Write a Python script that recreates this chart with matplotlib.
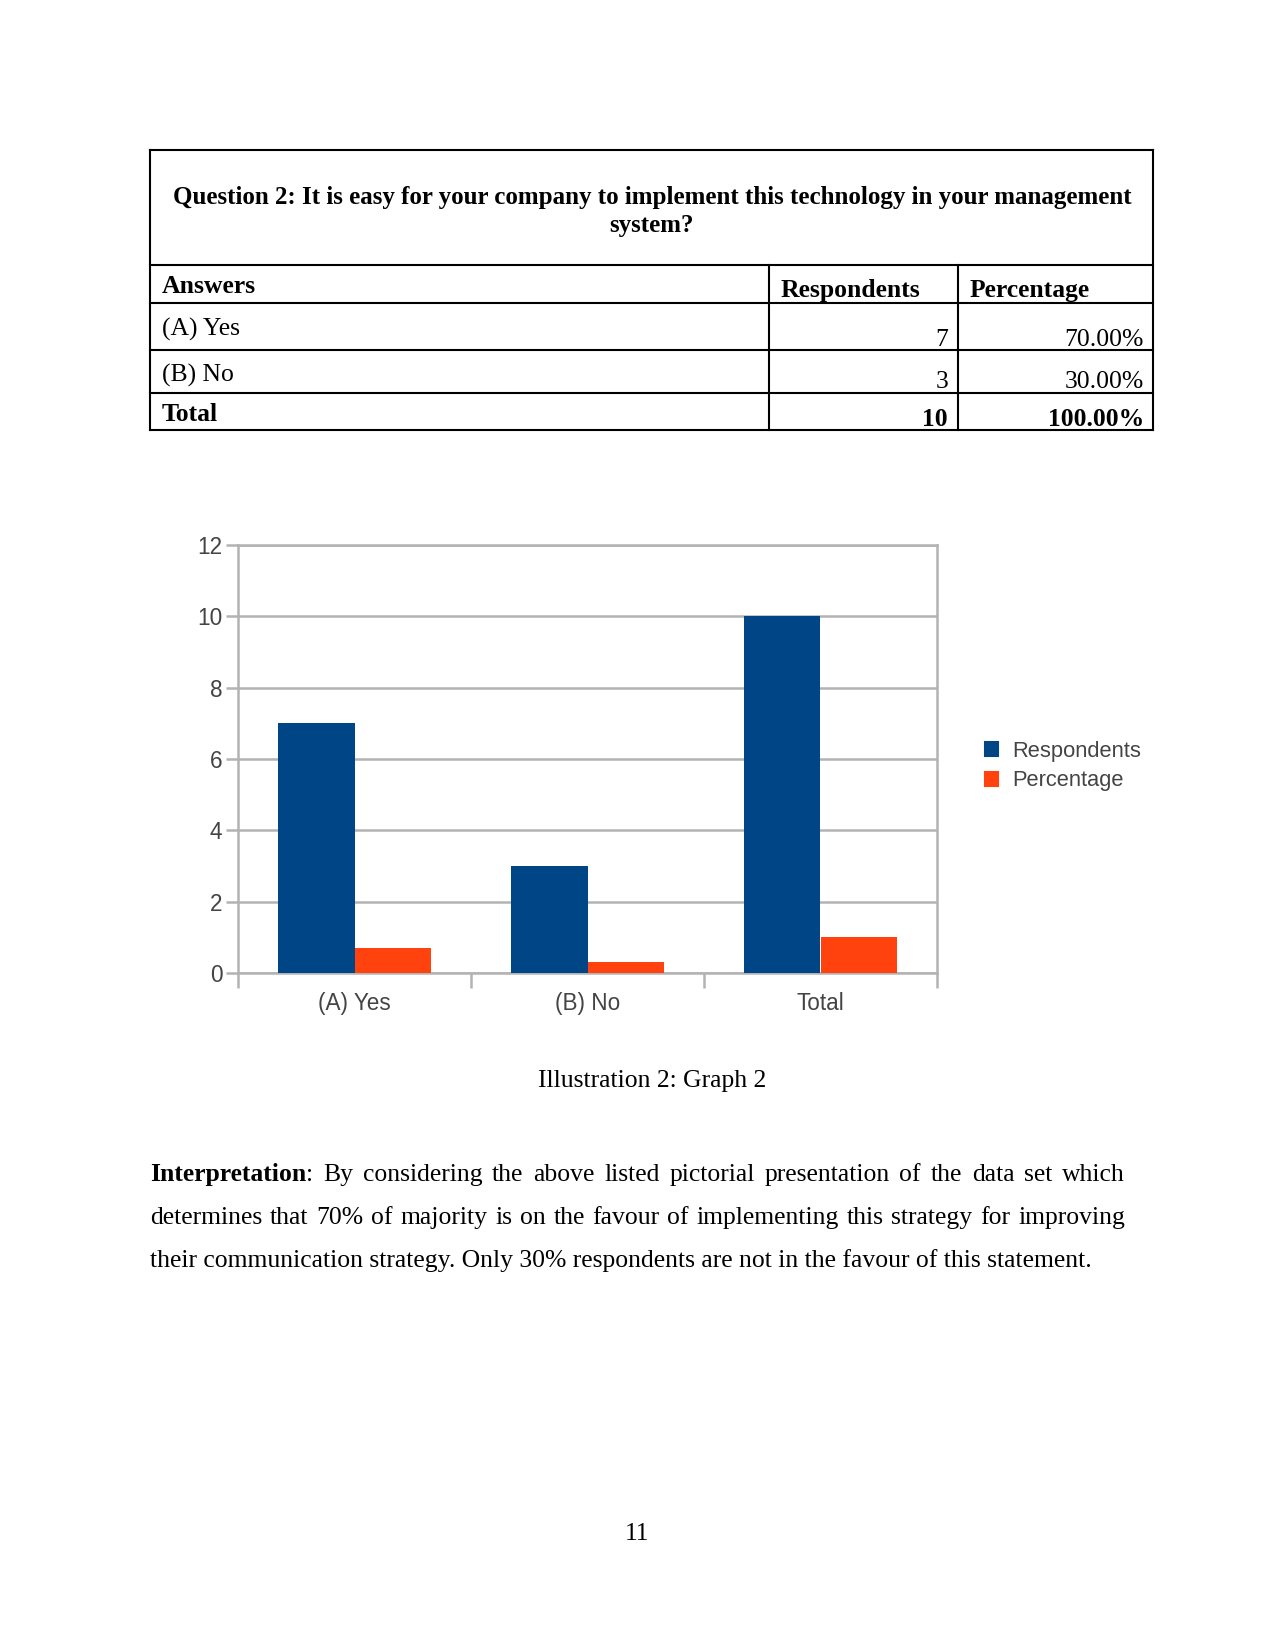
import matplotlib
matplotlib.use("Agg")
import matplotlib.pyplot as plt
from matplotlib.patches import Patch
from matplotlib.lines import Line2D
import numpy as np

# ---------------- data ----------------
question = ["Question 2: It is easy for your company to implement this technology in your management",
            "system?"]
header = ["Answers", "Respondents", "Percentage"]
answers = ["(A) Yes", "(B) No", "Total"]
respondents = [7, 3, 10]
percent_labels = ["70.00%", "30.00%", "100.00%"]
percentages = [0.7, 0.3, 1.0]
series_names = ["Respondents", "Percentage"]
yticks = [0, 2, 4, 6, 8, 10, 12]
caption = "Illustration 2: Graph 2"
para_lines = [
    [("Interpretation", "bold", ":"), "By", "considering", "the", "above", "listed", "pictorial",
     "presentation", "of", "the", "data", "set", "which"],
    ["determines", "that", "70%", "of", "majority", "is", "on", "the", "favour", "of",
     "implementing", "this", "strategy", "for", "improving"],
    ["their communication strategy. Only 30% respondents are not in the favour of this statement."],
]
page_number = "11"

W, H = 1275, 1650
fig = plt.figure(figsize=(8.5, 11), dpi=150)
SERIF = ["Liberation Serif", "DejaVu Serif"]
SANS = ["Liberation Sans", "DejaVu Sans"]
DY = 2.5  # global text baseline shift


def P(x, y):
    return x / W, 1 - (y + DY) / H


def hline(x0, x1, y, lw=1.0):
    fig.add_artist(Line2D([x0 / W, x1 / W], [1 - y / H, 1 - y / H], color="black", lw=lw))


def vline(x, y0, y1, lw=1.0):
    fig.add_artist(Line2D([x / W, x / W], [1 - y0 / H, 1 - y1 / H], color="black", lw=lw))


# ---------------- table ----------------
L, R = 150, 1153
col1, col2 = 769, 958
rows_y = [150, 265, 303, 350, 393, 430]
for y in rows_y:
    hline(L, R, y)
vline(L, 150, 430)
vline(R, 150, 430)
vline(col1, 265, 430)
vline(col2, 265, 430)

fig.text(*P(652, 195), question[0], ha="center", va="center", fontsize=12.0,
         fontweight="bold", family=SERIF)
fig.text(*P(652, 223), question[1], ha="center", va="center", fontsize=12.0,
         fontweight="bold", family=SERIF)
fig.text(*P(162, 284), header[0], ha="left", va="center", fontsize=12.3, fontweight="bold", family=SERIF)
fig.text(*P(781, 288), header[1], ha="left", va="center", fontsize=12.3, fontweight="bold", family=SERIF)
fig.text(*P(970, 288), header[2], ha="left", va="center", fontsize=12.3, fontweight="bold", family=SERIF)
ans_y = [327, 373, 412]
val_y = [337, 379, 417]
for i in range(3):
    wt = "bold" if i == 2 else "normal"
    fig.text(*P(162, ans_y[i]), answers[i], ha="left", va="center", fontsize=12.3,
             fontweight=wt, family=SERIF)
    fig.text(*P(948, val_y[i]), str(respondents[i]), ha="right", va="center", fontsize=12.3,
             fontweight=wt, family=SERIF)
    fig.text(*P(1144, val_y[i]), percent_labels[i], ha="right", va="center", fontsize=12.3,
             fontweight=wt, family=SERIF)

# ---------------- chart ----------------
ax_l, ax_r, ax_t, ax_b = 238, 937, 545, 973
ax = fig.add_axes([ax_l / W, 1 - ax_b / H, (ax_r - ax_l) / W, (ax_b - ax_t) / H])
x = np.arange(len(answers))
bw = 0.33
blue, orange = "#004586", "#ff420e"
ax.bar(x - bw / 2, respondents, bw, color=blue, zorder=3)
ax.bar(x + bw / 2, percentages, bw, color=orange, zorder=3)
ax.set_xlim(-0.5, 2.5)
ax.set_ylim(0, 12)
ax.set_yticks(yticks)
ax.set_yticklabels([str(t) for t in yticks])
ax.yaxis.grid(True, color="#b3b3b3", lw=1.2, zorder=0)
ax.set_xticks(x)
ax.set_xticklabels(answers)
ax.set_xticks([-0.5, 0.5, 1.5, 2.5], minor=True)
ax.tick_params(axis="x", which="major", length=0, pad=9, labelsize=10.8, labelcolor="#444444")
ax.tick_params(axis="x", which="minor", length=7, width=1.2, color="#b3b3b3", direction="out")
ax.tick_params(axis="y", length=6, width=1.2, color="#b3b3b3", pad=1.5, labelsize=10.8,
               labelcolor="#444444")
for lab in ax.get_xticklabels() + ax.get_yticklabels():
    lab.set_family(SANS)
for s in ax.spines.values():
    s.set_color("#b3b3b3")
    s.set_linewidth(1.2)

handles = [Patch(color=blue, label=series_names[0]), Patch(color=orange, label=series_names[1])]
leg = fig.legend(handles=handles, loc="center left", bbox_to_anchor=(965 / W, 1 - 766 / H),
                 frameon=False, handlelength=0.6, handleheight=0.6, handletextpad=0.65,
                 labelspacing=0.4, prop={"family": SANS, "size": 10.5})
for t in leg.get_texts():
    t.set_color("#444444")

# ---------------- caption & paragraph ----------------
fig.text(*P(652, 1078), caption, ha="center", va="center", fontsize=12.3, family=SERIF)

renderer = fig.canvas.get_renderer()
PL, PR = 150, 1125
line_y = [1172, 1215, 1258]
BASE_OFF = 6.5  # baseline below line centre
FS = 12.3


def width_px(t):
    return t.get_window_extent(renderer=renderer).width


for li, words in enumerate(para_lines):
    yb = line_y[li] + BASE_OFF
    if len(words) == 1:
        fig.text(*P(PL, yb), words[0], ha="left", va="baseline", fontsize=FS, family=SERIF)
        continue
    items = []
    total = 0
    for w in words:
        if isinstance(w, tuple):
            t1 = fig.text(0, 0, w[0], fontsize=FS, family=SERIF, fontweight=w[1], va="baseline")
            t2 = fig.text(0, 0, w[2], fontsize=FS, family=SERIF, va="baseline")
            w1, w2 = width_px(t1), width_px(t2)
            items.append(([t1, t2], [0, w1], w1 + w2))
            total += w1 + w2
        else:
            t = fig.text(0, 0, w, fontsize=FS, family=SERIF, va="baseline")
            ww = width_px(t)
            items.append(([t], [0], ww))
            total += ww
    gap = (PR - PL - total) / (len(items) - 1)
    cx = PL
    for ts, offs, ww in items:
        for t, o in zip(ts, offs):
            t.set_position(P(cx + o, yb))
        cx += ww + gap

fig.text(*P(637, 1532), page_number, ha="center", va="center", fontsize=12.3, family=SERIF)

fig.savefig("out.png", dpi=150)
